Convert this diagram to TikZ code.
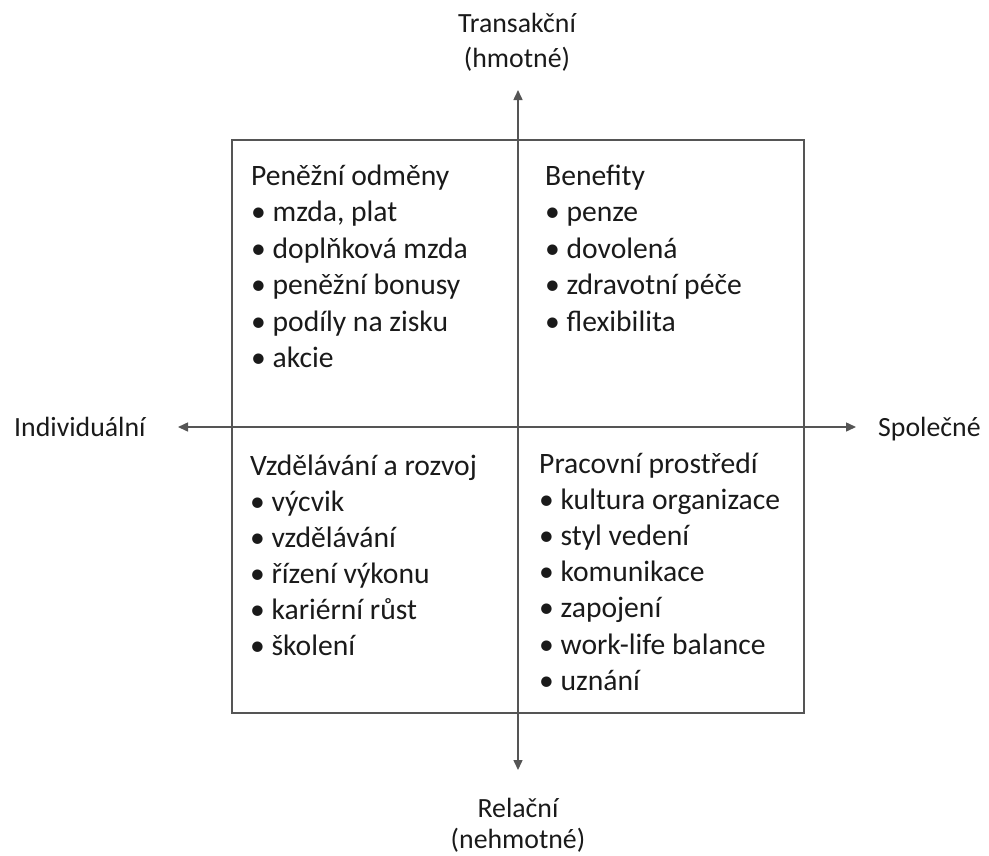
\documentclass[tikz,border=0pt]{standalone}
\usepackage{fontspec}
\setmainfont{Carlito}
\usetikzlibrary{arrows.meta}
\definecolor{txt}{HTML}{1A1A1A}
\definecolor{ln}{HTML}{555555}
\begin{document}
\begin{tikzpicture}[x=1pt,y=-1pt,
  lbl/.style={inner sep=0pt,anchor=base west,text=txt,font=\fontsize{29.6}{36}\selectfont},
  axlbl/.style={inner sep=0pt,anchor=base,text=txt,font=\fontsize{27.8}{34}\selectfont},
  axside/.style={inner sep=0pt,anchor=base west,text=txt,font=\fontsize{27.8}{34}\selectfont},
  axis/.style={draw=ln,line width=1.5pt,{Triangle[length=10pt,width=9pt]}-{Triangle[length=10pt,width=9pt]}},
  frame/.style={draw=ln,line width=1.5pt}]
\useasboundingbox (0,0) rectangle (989,855);
\draw[frame] (232,140) rectangle (804,713);
\coordinate (top) at (518,90);
\coordinate (bot) at (518,770);
\coordinate (lft) at (178,427);
\coordinate (rgt) at (856,427);
\draw[axis] (top) -- (bot);
\draw[axis] (lft) -- (rgt);
\node[axlbl] (t1) at (517,32) {Transakční};
\node[axlbl] (t2) at (517,67) {(hmotné)};
\node[axlbl] (b1) at (518,817) {Relační};
\node[axlbl] (b2) at (518,848) {(nehmotné)};
\node[axside] (ind) at (14,436) {Individuální};
\node[axside] (spo) at (878,436) {Společné};
\foreach \t [count=\i from 0] in {Peněžní odměny,{• mzda, plat},• doplňková mzda,• peněžní bonusy,• podíly na zisku,• akcie}
  \node[lbl] (tl-\i) at (251,185+36.5*\i) {\t};
\foreach \t [count=\i from 0] in {Benefity,• penze,• dovolená,• zdravotní péče,• flexibilita}
  \node[lbl] (tr-\i) at (545,185+36.5*\i) {\t};
\foreach \t [count=\i from 0] in {Vzdělávání a rozvoj,• výcvik,• vzdělávání,• řízení výkonu,• kariérní růst,• školení}
  \node[lbl] (bl-\i) at (250,475+36*\i) {\t};
\foreach \t [count=\i from 0] in {Pracovní prostředí,• kultura organizace,• styl vedení,• komunikace,• zapojení,• work-life balance,• uznání}
  \node[lbl] (br-\i) at (539,473+36.2*\i) {\t};
\end{tikzpicture}
\end{document}
